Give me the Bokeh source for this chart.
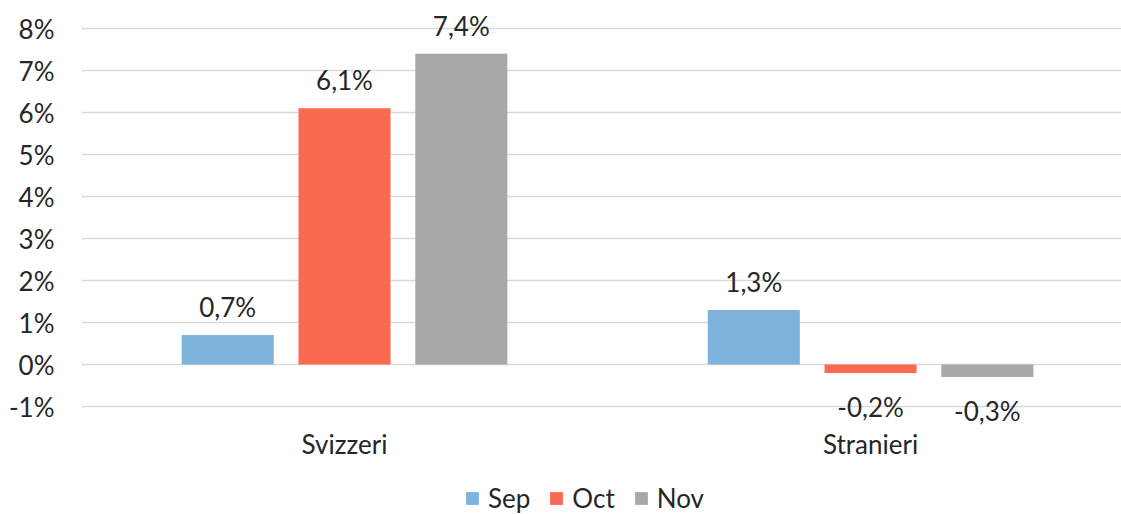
from bokeh.plotting import figure
from bokeh.models import (ColumnDataSource, Range1d, FixedTicker, PrintfTickFormatter,
                          LabelSet, Legend, LegendItem)
from bokeh.transform import dodge
from bokeh.core.properties import value
from bokeh.embed import file_html
from bokeh.resources import INLINE

categories = ["Svizzeri", "Stranieri"]
months = ["Sep", "Oct", "Nov"]
sep_values = [0.7, 1.3]
oct_values = [6.1, -0.2]
nov_values = [7.4, -0.3]
y_ticks = [-1, 0, 1, 2, 3, 4, 5, 6, 7, 8]

series = {"Sep": sep_values, "Oct": oct_values, "Nov": nov_values}
colors = {"Sep": "#7DB3DC", "Oct": "#F96A51", "Nov": "#A6A9A6"}
offsets = {"Sep": -0.222, "Oct": 0.0, "Nov": 0.222}

FONT = "Lato"
TEXT_COLOR = "#262626"

p = figure(width=1121, height=514, output_backend="svg", toolbar_location=None,
           x_range=Range1d(-0.5, 1.477), y_range=Range1d(-3.571, 8.667),
           x_axis_location=None,
           min_border_left=81, min_border_right=0, min_border_top=0,
           min_border_bottom=0)

p.outline_line_color = None
p.background_fill_color = "white"
p.border_fill_color = "white"

idx = list(range(len(categories)))
items = []
for m in months:
    vals = series[m]
    labels = [f"{v:.1f}".replace(".", ",") + "%" for v in vals]
    yoff = [28 if v >= 0 else -34 for v in vals]
    src = ColumnDataSource(dict(xi=idx, v=vals, lab=labels, yoff=yoff))
    r = p.vbar(x=dodge("xi", offsets[m]), top="v", bottom=0, width=0.175,
               source=src, fill_color=colors[m], line_color=None)
    items.append(LegendItem(label=m, renderers=[r]))
    ls = LabelSet(x=dodge("xi", offsets[m]), y="v", text="lab", source=src,
                  y_offset="yoff", text_align="center", text_baseline="middle",
                  text_font=value(FONT), text_font_size="26px", text_color=TEXT_COLOR)
    p.add_layout(ls)

# category labels (horizontal axis labels) under the -1% line
cat_src = ColumnDataSource(dict(xi=idx, yb=[y_ticks[0]] * len(idx), name=categories))
cat_labels = LabelSet(x="xi", y="yb", text="name", source=cat_src, y_offset=-37,
                      text_align="center", text_baseline="middle",
                      text_font=value(FONT), text_font_size="26px",
                      text_color=TEXT_COLOR)
p.add_layout(cat_labels)

# y axis
p.yaxis.ticker = FixedTicker(ticks=y_ticks)
p.yaxis.formatter = PrintfTickFormatter(format="%d%%")
p.yaxis.axis_line_color = None
p.yaxis.major_tick_line_color = None
p.yaxis.minor_tick_line_color = None
p.yaxis.major_tick_out = 0
p.yaxis.major_tick_in = 0
p.yaxis.minor_tick_out = 0
p.yaxis.major_label_standoff = 27
p.yaxis.major_label_text_font = FONT
p.yaxis.major_label_text_font_size = "26px"
p.yaxis.major_label_text_color = TEXT_COLOR

p.xgrid.grid_line_color = None
p.ygrid.ticker = FixedTicker(ticks=y_ticks)
p.ygrid.grid_line_color = "#D9D9D9"
p.ygrid.grid_line_width = 1.5

legend = Legend(items=items, orientation="horizontal", location=(383, 0),
                glyph_width=16, glyph_height=16, label_standoff=8, spacing=18,
                padding=0, margin=0, border_line_color=None,
                background_fill_alpha=0,
                label_text_font=FONT, label_text_font_size="26px",
                label_text_color=TEXT_COLOR)
p.add_layout(legend)

open("out.html", "w").write(file_html(p, INLINE))
